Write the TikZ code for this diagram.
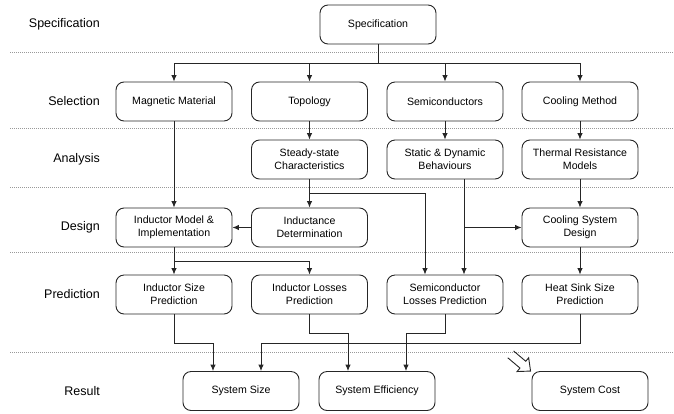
\documentclass[tikz,border=0pt]{standalone}
\usepackage{fontspec}
\setmainfont{Liberation Sans}
\usepackage{tikz}
\usetikzlibrary{arrows.meta}

\begin{document}
\begin{tikzpicture}[x=1pt,y=-1pt,
		box/.style={draw=black!85,line width=0.9pt,rounded corners=8pt,minimum width=116pt,minimum height=39pt,align=center,inner sep=2pt,font=\fontsize{10.6}{12.7}\selectfont},
		rowlabel/.style={anchor=east,inner sep=0pt,font=\fontsize{12.5}{15}\selectfont},
		sep/.style={black!40,line width=0.6pt,dash pattern=on 0.8pt off 1.2pt},
		arr/.style={draw=black!85,line width=0.9pt,-{Latex[length=6.5pt,width=5.5pt]}},
		ln/.style={draw=black!85,line width=0.9pt}]
		\useasboundingbox (0,0) rectangle (674,413);
		\draw [sep] (10,52) -- (674,52);
		\draw [sep] (10,128) -- (674,128);
		\draw [sep] (10,187) -- (674,187);
		\draw [sep] (10,252) -- (674,252);
		\draw [sep] (10,352) -- (674,352);
		\node [rowlabel] (lspec) at (100,24.5) {Specification};
		\node [rowlabel] (lsel) at (100,101.5) {Selection};
		\node [rowlabel] (lana) at (100,159.5) {Analysis};
		\node [rowlabel] (ldes) at (100,227.5) {Design};
		\node [rowlabel] (lpre) at (100,294.5) {Prediction};
		\node [rowlabel] (lres) at (100,391) {Result};
		\node [box] (spec) at (378,24.5) {Specification};
		\node [box] (mag) at (174,101.5) {Magnetic Material};
		\node [box] (topo) at (309.5,101.5) {Topology};
		\node [box] (semi) at (445,101.5) {Semiconductors};
		\node [box] (cool) at (580,101.5) {Cooling Method};
		\node [box] (steady) at (309.5,159.5) {Steady-state\\Characteristics};
		\node [box] (static) at (445,159.5) {Static \& Dynamic\\Behaviours};
		\node [box] (thermal) at (580,159.5) {Thermal Resistance\\Models};
		\node [box] (indmod) at (174,227.5) {Inductor Model \&\\Implementation};
		\node [box] (inddet) at (309.5,227.5) {Inductance\\Determination};
		\node [box] (coolsys) at (580,227.5) {Cooling System\\Design};
		\node [box] (indsize) at (174,294.5) {Inductor Size\\Prediction};
		\node [box] (indloss) at (309.5,294.5) {Inductor Losses\\Prediction};
		\node [box] (semiloss) at (445,294.5) {Semiconductor\\Losses Prediction};
		\node [box] (heatsink) at (580,294.5) {Heat Sink Size\\Prediction};
		\node [box] (size) at (241,391) {System Size};
		\node [box] (eff) at (377,391) {System Efficiency};
		\node [box] (cost) at (590,391) {System Cost};
		\draw [ln] (spec) -- (378,63) coordinate (sj);
		\draw [arr] (sj) -| (mag);
		\draw [arr] (sj) -| (topo);
		\draw [arr] (sj) -| (semi);
		\draw [arr] (sj) -| (cool);
		\draw [arr] (mag) -- (indmod);
		\draw [arr] (topo) -- (steady);
		\draw [arr] (semi) -- (static);
		\draw [arr] (cool) -- (thermal);
		\draw [arr] (steady) -- (inddet);
		\draw [arr] (steady.south |- 0,193) -| ([xshift=-20pt]semiloss.north);
		\coordinate (sx) at ([xshift=19pt]static.south);
		\draw [arr] (sx) -- (sx |- semiloss.north);
		\draw [arr] (sx |- coolsys) -- (coolsys);
		\draw [arr] (inddet) -- (indmod);
		\draw [arr] (thermal) -- (coolsys);
		\draw [arr] (coolsys) -- (heatsink);
		\draw [arr] (indmod) -- (indsize);
		\draw [arr] (indmod.south |- 0,261) -| (indloss);
		\coordinate (s1) at ([xshift=-28pt]size.north);
		\coordinate (s2) at ([xshift=20pt]size.north);
		\coordinate (e1) at ([xshift=-29pt]eff.north);
		\coordinate (e2) at ([xshift=29pt]eff.north);
		\draw [arr] (indsize.south) |- (s1 |- 0,343) -- (s1);
		\draw [arr] (indloss.south) |- (e1 |- 0,333) -- (e1);
		\draw [arr] (semiloss.south) |- (e2 |- 0,333) -- (e2);
		\draw [arr] (heatsink.south) |- (s2 |- 0,343) -- (s2);
		\draw [ln,line join=miter,shift={(cost.north west)}] (-18,-20.1) -- (-5.8,-9.8) -- (-2.9,-13.3) -- (-1,0) -- (-14.5,0.5) -- (-11.6,-3) -- (-23.8,-13.3);
	\end{tikzpicture}
\end{document}
